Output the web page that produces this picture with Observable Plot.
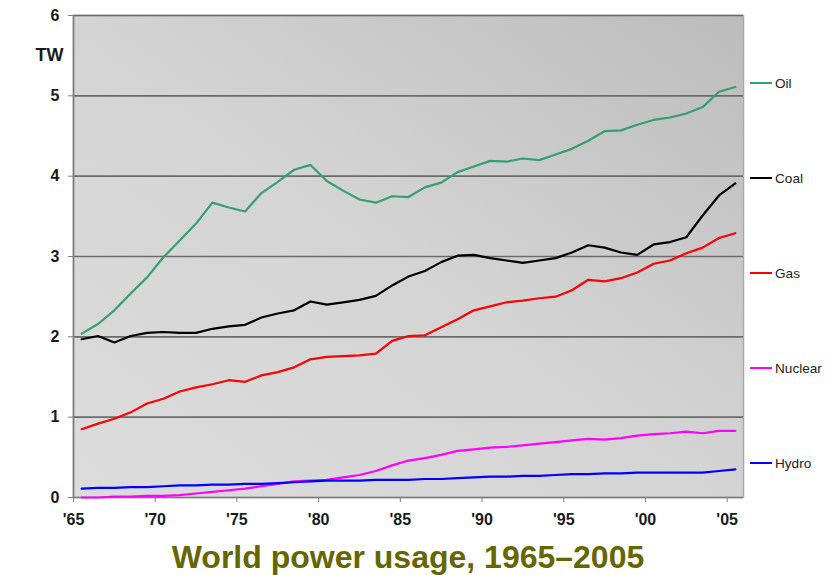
<!DOCTYPE html>
<html><head><meta charset="utf-8">
<script src="https://cdn.jsdelivr.net/npm/d3@7"></script>
<script src="https://cdn.jsdelivr.net/npm/@observablehq/plot@0.6"></script>
<style>
body{margin:0;background:#fff;font-family:"Liberation Sans",Arial,sans-serif}
#wrap{position:relative;width:834px;height:575px;overflow:hidden}
#chart{position:absolute;left:0;top:0}
#legend{position:absolute;left:750px;top:0;width:84px}
.item{position:absolute;left:0;height:16px;display:flex;align-items:center;white-space:nowrap;font-size:13.6px;color:#222}
.sw{display:inline-block;width:22px;height:2px;margin-right:3px}
#title{position:absolute;left:73px;width:670px;top:539px;text-align:center;font-weight:bold;font-size:32px;color:#666600;white-space:nowrap}
</style></head>
<body>
<div id="wrap"><div id="chart"></div><div id="legend"></div><div id="title">World power usage, 1965–2005</div></div>
<script>
const years = d3.range(1965, 2006);
const oil = [2.04,2.16,2.33,2.54,2.74, 2.99,3.20,3.41,3.67,3.61, 3.56,3.79,3.93,4.08,4.14, 3.94,3.82,3.71,3.67,3.75, 3.74,3.86,3.92,4.05,4.12, 4.19,4.18,4.22,4.20,4.27, 4.34,4.44,4.56,4.57,4.64, 4.70,4.73,4.78,4.86,5.05, 5.11];
const coal = [1.97,2.01,1.93,2.01,2.05, 2.06,2.05,2.05,2.10,2.13, 2.15,2.24,2.29,2.33,2.44, 2.40,2.43,2.46,2.51,2.64, 2.75,2.82,2.93,3.01,3.02, 2.98,2.95,2.92,2.95,2.98, 3.05,3.14,3.11,3.05,3.02, 3.15,3.18,3.24,3.51,3.76, 3.91];
const gas = [0.85,0.92,0.98,1.06,1.17, 1.23,1.32,1.37,1.41,1.46, 1.44,1.52,1.56,1.62,1.72, 1.75,1.76,1.77,1.79,1.95, 2.01,2.02,2.12,2.22,2.33, 2.38,2.43,2.45,2.48,2.50, 2.58,2.71,2.69,2.73,2.80, 2.91,2.95,3.04,3.11,3.23, 3.29];
const nuclear = [0.00,0.00,0.01,0.01,0.02, 0.02,0.03,0.05,0.07,0.09, 0.11,0.14,0.17,0.20,0.21, 0.22,0.25,0.28,0.33,0.40, 0.46,0.49,0.53,0.58,0.60, 0.62,0.63,0.65,0.67,0.69, 0.71,0.73,0.72,0.74,0.77, 0.79,0.80,0.82,0.80,0.83, 0.83];
const hydro = [0.11,0.12,0.12,0.13,0.13, 0.14,0.15,0.15,0.16,0.16, 0.17,0.17,0.18,0.19,0.20, 0.21,0.21,0.21,0.22,0.22, 0.22,0.23,0.23,0.24,0.25, 0.26,0.26,0.27,0.27,0.28, 0.29,0.29,0.30,0.30,0.31, 0.31,0.31,0.31,0.31,0.33, 0.35];

const seriesNames = ["Oil", "Coal", "Gas", "Nuclear", "Hydro"];
const seriesColors = ["#33a070", "#000000", "#ff0000", "#ff00ff", "#0000ff"];
const seriesValues = [oil, coal, gas, nuclear, hydro];
const xTicks = [1965, 1970, 1975, 1980, 1985, 1990, 1995, 2000, 2005];
const xTickLabels = ["'65", "'70", "'75", "'80", "'85", "'90", "'95", "'00", "'05"];
const yTicks = [0, 1, 2, 3, 4, 5, 6];
const yUnit = "TW";

const rows = seriesNames.flatMap((name, i) => years.map((year, j) => ({series: name, year, value: seriesValues[i][j]})));

const chart = Plot.plot({
  width: 834, height: 530,
  marginLeft: 73, marginRight: 91, marginTop: 15, marginBottom: 33,
  style: {fontFamily: "'Liberation Sans', Arial, sans-serif", fontSize: "16px", fontWeight: "bold", color: "#1a1a1a", background: "transparent", overflow: "visible"},
  x: {domain: [1965, 2006]},
  y: {domain: [0, 6]},
  color: {domain: seriesNames, range: seriesColors},
  marks: [
    Plot.frame({fill: "url(#plotbg)", stroke: "#a9a9a9", strokeWidth: 1.5}),
    Plot.ruleY(yTicks.filter(d => d > 0), {stroke: "#6b6b6b", strokeWidth: 1.6}),
    Plot.ruleX([1965], {stroke: "#7d7d7d", strokeWidth: 1.6}),
    Plot.ruleY([0], {stroke: "#7d7d7d", strokeWidth: 1.6}),
    Plot.axisX({ticks: xTicks, tickFormat: d => xTickLabels[xTicks.indexOf(d)], tickSize: 5, tickPadding: 11, fontSize: 16, fontWeight: "bold", stroke: "#7d7d7d", fill: "#1a1a1a", label: null}),
    Plot.axisY({ticks: yTicks, tickFormat: d => String(d), tickSize: 5, tickPadding: 9, fontSize: 16, fontWeight: "bold", stroke: "#7d7d7d", fill: "#1a1a1a", label: null}),
    Plot.line(rows, {x: d => d.year + 0.5, y: "value", z: "series", stroke: "series", strokeWidth: 2.2}),
    Plot.text([yUnit], {frameAnchor: "top-left", dx: -38, dy: 33, fontSize: 18, fontWeight: "bold", fill: "#1a1a1a"})
  ]
});
d3.select(chart).insert("defs", ":first-child").html(
  '<linearGradient id="plotbg" x1="0" y1="1" x2="1" y2="0">' +
  '<stop offset="0" stop-color="#dcdcdc"/><stop offset="0.5" stop-color="#d4d4d4"/><stop offset="1" stop-color="#bcbcbc"/>' +
  '</linearGradient>');
document.getElementById("chart").appendChild(chart);

const legend = d3.select("#legend");
seriesNames.forEach((name, i) => {
  const it = legend.append("div").attr("class", "item").style("top", (75 + i * 95) + "px");
  it.append("span").attr("class", "sw").style("background", seriesColors[i]);
  it.append("span").text(name);
});
</script>
</body></html>
